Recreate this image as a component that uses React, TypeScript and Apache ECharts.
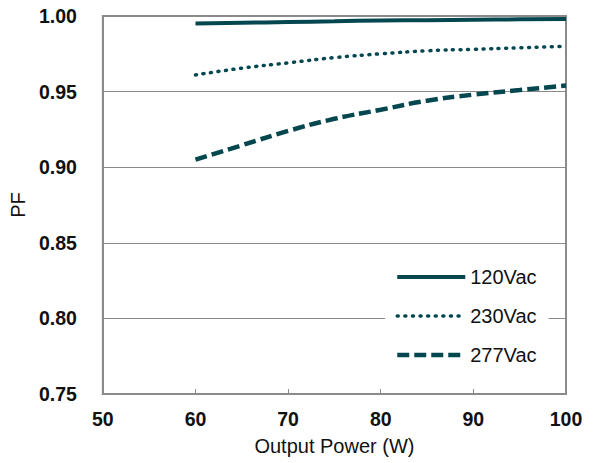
import React, { useEffect, useRef } from "react";
import * as echarts from "echarts";

const power = [60, 65, 70, 75, 80, 85, 90, 95, 100];
const pf120 = [0.995, 0.9955, 0.996, 0.9965, 0.997, 0.9972, 0.9975, 0.9978, 0.998];
const pf230 = [0.961, 0.9655, 0.969, 0.9725, 0.975, 0.977, 0.978, 0.979, 0.98];
const pf277 = [0.905, 0.9145, 0.924, 0.932, 0.938, 0.944, 0.948, 0.951, 0.954];
const seriesNames = ["120Vac", "230Vac", "277Vac"];
const yTicks = { min: 0.75, max: 1.0, step: 0.05 };
const xTicks = { min: 50, max: 100, step: 10 };

const COLOR = "#05474f";
const FONT = "Arial, 'Liberation Sans', sans-serif";

export default function App() {
  const ref = useRef<HTMLDivElement>(null);
  useEffect(() => {
    if (!ref.current) return;
    const chart = echarts.init(ref.current, undefined, { renderer: "svg" });
    const mk = (vals: number[]) => power.map((p, i) => [p, vals[i]]);
    const styles = [
      { color: COLOR, width: 4, type: "solid" },
      { color: COLOR, width: 3.5, type: [1, 6.6], cap: "round" },
      { color: COLOR, width: 4.5, type: [12, 5] },
    ];
    const values = [pf120, pf230, pf277];
    chart.setOption({
      animation: false,
      backgroundColor: "#ffffff",
      grid: {
        left: 99,
        right: 32,
        top: 16,
        bottom: 69,
        show: true,
        borderColor: "#8a8a8a",
        borderWidth: 2,
      },
      legend: {
        left: 385,
        top: 257,
        orient: "vertical",
        backgroundColor: "#ffffff",
        padding: [10, 12, 10, 10],
        itemWidth: 68,
        itemHeight: 14,
        itemGap: 19,
        data: seriesNames.map((n, i) => ({ name: n, lineStyle: { ...styles[i] } })),
        itemStyle: { color: "rgba(0,0,0,0)", borderWidth: 0, opacity: 0 },
        textStyle: { fontFamily: FONT, fontSize: 20, color: "#111" },
      },
      xAxis: {
        type: "value",
        min: xTicks.min,
        max: xTicks.max,
        interval: xTicks.step,
        name: "Output Power (W)",
        nameLocation: "middle",
        nameGap: 42,
        nameTextStyle: { fontFamily: FONT, fontSize: 20, color: "#111" },
        axisLine: { lineStyle: { color: "#8a8a8a", width: 2 } },
        axisTick: { show: true, inside: true, length: 5, lineStyle: { color: "#8a8a8a" } },
        axisLabel: { fontFamily: FONT, fontSize: 19.5, fontWeight: "bold", color: "#111", margin: 15 },
        splitLine: { show: false },
      },
      yAxis: {
        type: "value",
        min: yTicks.min,
        max: yTicks.max,
        interval: yTicks.step,
        name: "PF",
        nameLocation: "middle",
        nameGap: 72,
        nameTextStyle: { fontFamily: FONT, fontSize: 20, color: "#111" },
        axisLine: { show: true, lineStyle: { color: "#8a8a8a", width: 2 } },
        axisTick: { show: false },
        axisLabel: {
          fontFamily: FONT,
          fontSize: 19.5,
          fontWeight: "bold",
          color: "#111",
          margin: 26,
          formatter: (v: number) => v.toFixed(2),
        },
        splitLine: { show: true, lineStyle: { color: "#8a8a8a", width: 1 } },
      },
      series: seriesNames.map((n, i) => ({
        name: n,
        type: "line",
        data: mk(values[i]),
        smooth: true,
        showSymbol: false,
        symbol: "none",
        lineStyle: { ...styles[i] },
        itemStyle: { color: COLOR },
      })),
    });
    return () => chart.dispose();
  }, []);
  return <div ref={ref} style={{ width: 598, height: 463, position: "absolute", left: 0, top: 0 }} />;
}
